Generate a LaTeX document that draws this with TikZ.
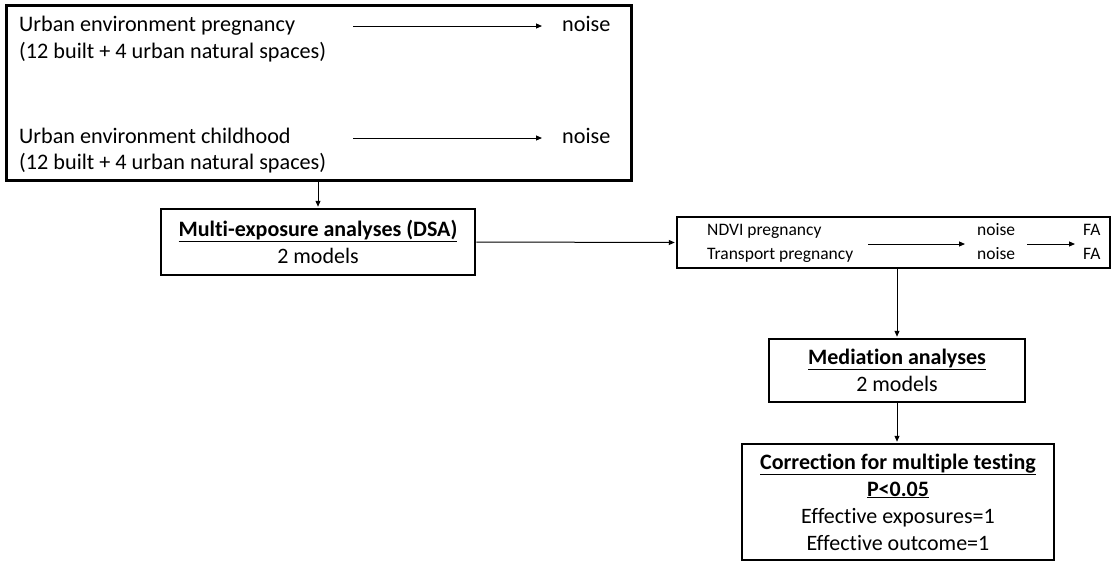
\documentclass[tikz,border=0pt]{standalone}
\usepackage{fontspec}
\setmainfont{Carlito}[Ligatures=NoCommon]
\usetikzlibrary{arrows.meta}
\begin{document}
\begin{tikzpicture}[x=1pt,y=-1pt,
  box/.style={draw=black, line width=2.5pt, inner sep=0pt, align=center, font=\fontsize{22}{27}\selectfont},
  conn/.style={draw=black, line width=1pt, -{Triangle[length=6pt,width=5pt]}},
  bigtxt/.style={inner sep=0pt, anchor=base west, font=\fontsize{22.2}{27}\selectfont},
  smalltxt/.style={inner sep=0pt, anchor=base west, font=\fontsize{17.5}{24}\selectfont}]
\fill[white] (0,0) rectangle (1112,565);
\useasboundingbox (0,0) rectangle (1112,565);

% top box
\node[box, line width=3pt, minimum width=625, minimum height=175] (top) at (318.5,92.5) {};
\node[bigtxt] (u1) at (19,31) {Urban environment pregnancy};
\node[bigtxt] (u2) at (19,58) {(12 built + 4 urban natural spaces)};
\node[bigtxt] (u3) at (19,143) {Urban environment childhood};
\node[bigtxt] (u4) at (19,169) {(12 built + 4 urban natural spaces)};
\node[bigtxt] (n1) at (562,31) {noise};
\node[bigtxt] (n2) at (562,143) {noise};
\coordinate (s1) at (353,26);
\coordinate (s2) at (353,138);
\draw[conn, shorten >=20pt] (s1) -- (s1 -| n1.west);
\draw[conn, shorten >=20pt] (s2) -- (s2 -| n2.west);

% DSA
\node[box, minimum width=314, minimum height=66] (dsa) at (318,242)
  {\underline{\textbf{Multi-exposure analyses (DSA)}}\\2 models};

% NDVI box
\node[box, minimum width=433, minimum height=51] (ndvi) at (893.5,242.5) {};
\node[smalltxt] (nd1) at (707,235) {NDVI pregnancy};
\node[smalltxt] (nd2) at (707,259) {Transport pregnancy};
\node[smalltxt] (nz1) at (977,235) {noise};
\node[smalltxt] (nz2) at (977,259) {noise};
\node[smalltxt] (fa1) at (1083,235) {FA};
\node[smalltxt] (fa2) at (1083,259) {FA};
\coordinate (m1) at (868,244);
\coordinate (m2) at (1027,244);
\draw[conn, shorten >=12pt] (m1) -- (m1 -| nz1.west);
\draw[conn, shorten >=8pt] (m2) -- (m2 -| fa1.west);

% Mediation
\node[box, minimum width=256, minimum height=63] (med) at (897,370.5)
  {\underline{\textbf{Mediation analyses}}\\2 models};

% Correction
\node[box, minimum width=312, minimum height=116] (cor) at (898,502)
  {\underline{\textbf{Correction for multiple testing}}\\\underline{\textbf{P<0.05}}\\Effective exposures=1\\Effective outcome=1};

% connectors
\draw[conn, shorten >=1pt] (top.south -| dsa.north) -- (dsa.north);
\draw[conn, shorten >=1pt] (dsa.east) -- (ndvi.west);
\draw[conn, shorten >=1pt] (ndvi.south -| med.north) -- (med.north);
\draw[conn, shorten >=1pt] (med.south) -- (med.south |- cor.north);
\end{tikzpicture}
\end{document}
